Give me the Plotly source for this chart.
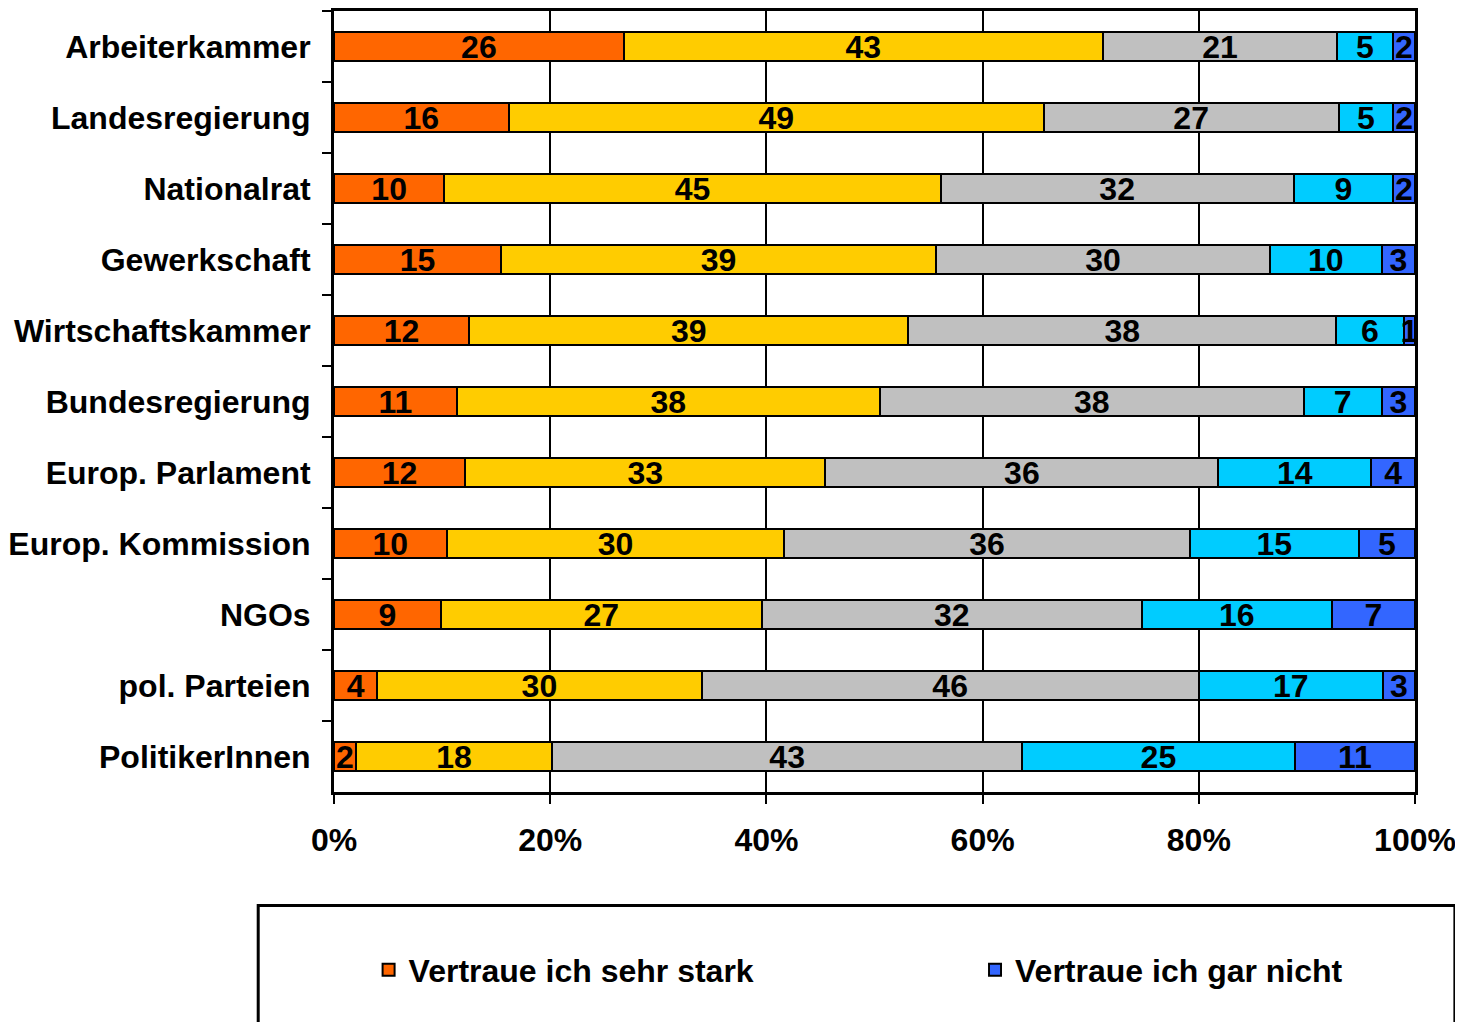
import plotly.graph_objects as go

categories = ["Arbeiterkammer", "Landesregierung", "Nationalrat", "Gewerkschaft",
              "Wirtschaftskammer", "Bundesregierung", "Europ. Parlament",
              "Europ. Kommission", "NGOs", "pol. Parteien", "PolitikerInnen"]

sehr_stark = [26, 16, 10, 15, 12, 11, 12, 10, 9, 4, 2]
ziemlich = [43, 49, 45, 39, 39, 38, 33, 30, 27, 30, 18]
teilweise = [21, 27, 32, 30, 38, 38, 36, 36, 32, 46, 43]
kaum = [5, 5, 9, 10, 6, 7, 14, 15, 16, 17, 25]
gar_nicht = [2, 2, 2, 3, 1, 3, 4, 5, 7, 3, 11]

series = [
    ("Vertraue ich sehr stark", sehr_stark, "#FF6600", "legend"),
    ("Vertraue ich ziemlich", ziemlich, "#FFCC00", None),
    ("Vertraue ich teilweise", teilweise, "#C0C0C0", None),
    ("Vertraue ich kaum", kaum, "#00CCFF", None),
    ("Vertraue ich gar nicht", gar_nicht, "#3366FF", "legend2"),
]

FONT = "Liberation Sans"
FS = 32

fig = go.Figure()
for name, vals, color, leg in series:
    fig.add_trace(go.Bar(
        y=categories, x=vals, name=name, orientation="h",
        marker=dict(color=color, line=dict(color="black", width=2)),
        text=[str(v) for v in vals], texttemplate="%{text}",
        textposition="inside", insidetextanchor="middle", textangle=0,
        constraintext="none",
        textfont=dict(family=FONT, size=FS, color="black", weight="bold"),
        showlegend=leg is not None,
        legend=leg if leg else "legend",
    ))

legend_common = dict(orientation="h", xanchor="left", y=-0.228, yanchor="middle",
                     font=dict(family=FONT, size=FS, color="black", weight="bold"),
                     bgcolor="rgba(0,0,0,0)")

fig.update_layout(
    barmode="stack", barnorm="percent", bargap=0.59,
    width=1455, height=1014,
    margin=dict(l=323, r=48, t=0, b=230),
    paper_bgcolor="white", plot_bgcolor="white",
    font=dict(family=FONT, size=FS, color="black"),
    uniformtext=dict(minsize=FS, mode="show"),
    showlegend=True,
    legend=dict(x=0.032, **legend_common),
    legend2=dict(x=0.593, **legend_common),
    shapes=[dict(type="rect", xref="paper", yref="paper",
                 x0=(255 - 331) / 1084, x1=(1455 - 331) / 1084,
                 y0=-0.35, y1=-(906 - 792) / 784,
                 line=dict(color="black", width=3), fillcolor="rgba(0,0,0,0)",
                 layer="below")],
)

fig.update_xaxes(
    range=[0, 100], tickvals=[0, 20, 40, 60, 80, 100],
    ticktext=["0%", "20%", "40%", "60%", "80%", "100%"],
    showgrid=True, gridcolor="black", gridwidth=2,
    showline=True, linecolor="black", linewidth=3, mirror=True,
    ticks="outside", ticklen=9, tickwidth=2, tickcolor="black",
    ticklabelstandoff=9,
    tickfont=dict(family=FONT, size=FS, color="black", weight="bold"),
    zeroline=False, fixedrange=True,
)
fig.update_yaxes(
    autorange="reversed", tickson="boundaries",
    showgrid=False, showline=True, linecolor="black", linewidth=3, mirror=True,
    ticks="outside", ticklen=9, tickwidth=2, tickcolor="black",
    ticklabelstandoff=14,
    tickfont=dict(family=FONT, size=FS, color="black", weight="bold"),
    fixedrange=True,
)

fig.write_html("out.html")
